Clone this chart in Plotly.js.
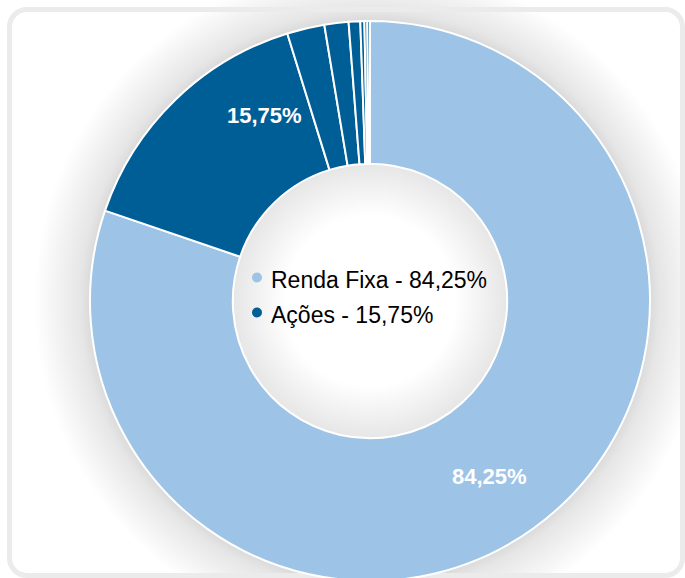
<!DOCTYPE html>
<html>
<head>
<meta charset="utf-8">
<script src="https://cdn.plot.ly/plotly-3.0.1.min.js"></script>
<style>
  html, body { margin:0; padding:0; width:685px; height:578px; overflow:hidden; background:#fff; }
  #bg { position:absolute; left:0; top:0; width:685px; height:578px;
        background: radial-gradient(circle at 370px 301px, #ffffff 0px, #ffffff 85px, #e6e6e6 137px, #dadada 280px, #e6e6e6 290px, #ffffff 336px); }
  #frame { position:absolute; left:7px; top:7px; width:678px; height:571px; box-sizing:border-box;
           border:5px solid #ebebeb; border-radius:20px; }
  #chart { position:absolute; left:0; top:0; width:685px; height:590px; }
</style>
</head>
<body>
<div id="bg"></div>
<div id="frame"></div>
<div id="chart"></div>
<script>
// Slices (clockwise from 12 o'clock)
const sliceLabels = ['Renda Fixa', 'Ações', 'Ações (ativo 2)', 'Ações (ativo 3)', 'Ações (ativo 4)', 'Ações (ativo 5)', 'Ações (ativo 6)', 'Ações (ativo 7)'];
const sliceValues = [84.25, 15.75, 2.27, 1.46, 0.70, 0.245, 0.175, 0.16];
const sliceColors = ['#9DC3E6', '#005E97', '#005E97', '#005E97', '#005E97', '#005E97', '#005E97', '#005E97'];

// Data labels and legend
const dataLabels = ['84,25%', '15,75%'];
const legendNames = ['Renda Fixa', 'Ações'];
const legendValues = ['84,25%', '15,75%'];
const legendColors = ['#9DC3E6', '#005E97'];

const W = 685, H = 590;
const CX = 370, CY = 301, R = 280;
const px = x => x / W;
const py = y => 1 - y / H;

const trace = {
  type: 'pie',
  labels: sliceLabels,
  values: sliceValues,
  marker: { colors: sliceColors, line: { color: '#ffffff', width: 2 } },
  sort: false,
  direction: 'clockwise',
  rotation: 0,
  hole: 0.49,
  textinfo: 'none',
  hoverinfo: 'label+value',
  showlegend: false,
  domain: { x: [px(CX - R), px(CX + R)], y: [py(CY + R), py(CY - R)] }
};

const labelPos = [[489, 475], [264, 114.5]];
const annotations = [];
dataLabels.forEach((t, i) => {
  annotations.push({
    xref: 'paper', yref: 'paper', x: px(labelPos[i][0]), y: py(labelPos[i][1] + 1),
    xanchor: 'center', yanchor: 'middle', showarrow: false, text: '<b>' + t + '</b>',
    font: { family: 'Liberation Sans, Arial, sans-serif', size: 22, color: '#ffffff' }
  });
});
const legendRows = [277.5, 312.5];
const shapes = [];
legendNames.forEach((n, i) => {
  annotations.push({
    xref: 'paper', yref: 'paper', x: px(269), y: py(legendRows[i] + 2),
    xanchor: 'left', yanchor: 'middle', showarrow: false,
    text: n + ' - ' + legendValues[i],
    font: { family: 'Liberation Sans, Arial, sans-serif', size: 23, color: '#000000' }
  });
  shapes.push({
    type: 'circle', xref: 'paper', yref: 'paper',
    x0: px(252), x1: px(262), y0: py(legendRows[i] + 5), y1: py(legendRows[i] - 5),
    fillcolor: legendColors[i], line: { width: 0 }
  });
});

const layout = {
  width: W, height: H,
  margin: { l: 0, r: 0, t: 0, b: 0 },
  paper_bgcolor: 'rgba(0,0,0,0)',
  plot_bgcolor: 'rgba(0,0,0,0)',
  showlegend: false,
  annotations: annotations,
  shapes: shapes
};

Plotly.newPlot('chart', [trace], layout, { displayModeBar: false, staticPlot: true });
</script>
</body>
</html>
